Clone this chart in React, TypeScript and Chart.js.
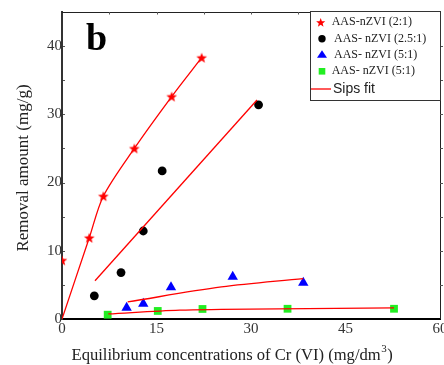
import React, { useEffect, useRef } from "react";
import { Chart, registerables } from "chart.js";

Chart.register(...registerables);

// ---- data ----
const s21X = [0, 4.33, 6.56, 11.48, 17.41, 22.17];
const s21Y = [8.6, 11.9, 18.0, 25.0, 32.6, 38.3];

const s25X = [5.13, 9.37, 12.9, 15.9, 31.2];
const s25Y = [3.4, 6.8, 12.9, 21.7, 31.4];

const s51X = [10.26, 12.9, 17.3, 27.1, 38.3];
const s51Y = [1.66, 2.25, 4.66, 6.18, 5.3];

const s55X = [7.25, 15.2, 22.3, 35.8, 52.7];
const s55Y = [0.63, 1.18, 1.47, 1.5, 1.5];

const fit21X = [0, 4.33, 6.56, 11.48, 17.41, 22.17];
const fit21Y = [0, 11.9, 18.0, 25.0, 32.6, 38.3];

const fit25X = [5.24, 30.95];
const fit25Y = [5.6, 32.1];

const fit51X = [10.43, 25.3, 38.3];
const fit51Y = [2.5, 4.7, 5.93];

const fit55X = [7.35, 18.7, 25.3, 52.7];
const fit55Y = [0.74, 1.3, 1.4, 1.62];

const legendLabels = [
  "AAS-nZVI (2:1)",
  "AAS- nZVI (2.5:1)",
  "AAS- nZVI (5:1)",
  "AAS- nZVI (5:1)",
  "Sips fit",
];

const xTicks = [0, 15, 30, 45, 60];
const yTicks = [0, 10, 20, 30, 40];

const xTitle = "Equilibrium concentrations of Cr (VI) (mg/dm";
const xTitleSup = "3";
const xTitleEnd = ")";
const yTitle = "Removal amount (mg/g)";
const panelLabel = "b";

const RED = "#ff0000";
const BLUE = "#0000ff";
const GREEN = "#22ee22";
const SERIF = "'Liberation Serif', 'Times New Roman', serif";
const SANS = "'Liberation Sans', Arial, sans-serif";

const toPts = (xs: number[], ys: number[]) => xs.map((x, i) => ({ x, y: ys[i] }));

function starPath(ctx: CanvasRenderingContext2D, cx: number, cy: number, r: number) {
  ctx.beginPath();
  for (let i = 0; i < 10; i++) {
    const rad = i % 2 === 0 ? r : r * 0.42;
    const a = -Math.PI / 2 + (i * Math.PI) / 5;
    const x = cx + rad * Math.cos(a);
    const y = cy + rad * Math.sin(a);
    if (i === 0) ctx.moveTo(x, y);
    else ctx.lineTo(x, y);
  }
  ctx.closePath();
}

function makeStar(r: number, color: string) {
  const c = document.createElement("canvas");
  const size = Math.ceil(r * 2 + 2);
  c.width = size;
  c.height = size;
  const ctx = c.getContext("2d")!;
  ctx.fillStyle = color;
  starPath(ctx, size / 2, size / 2 + 0.5, r);
  ctx.fill();
  return c;
}

const decorPlugin = {
  id: "decor",
  afterDraw(chart: any) {
    const ctx: CanvasRenderingContext2D = chart.ctx;
    const a = chart.chartArea;
    const xs = chart.scales.x;
    const ys = chart.scales.y;
    ctx.save();

    // top & right frame
    ctx.strokeStyle = "#222";
    ctx.lineWidth = 1;
    ctx.beginPath();
    ctx.moveTo(a.left, a.top + 0.5);
    ctx.lineTo(a.right + 0.5, a.top + 0.5);
    ctx.lineTo(a.right + 0.5, a.bottom);
    ctx.stroke();

    // minor ticks
    ctx.strokeStyle = "#555";
    ctx.beginPath();
    for (let v = 7.5; v < 60; v += 7.5) {
      const px = Math.round(xs.getPixelForValue(v)) + 0.5;
      ctx.moveTo(px, a.top);
      ctx.lineTo(px, a.top + 2.5);
    }
    for (let v = 5; v < 45; v += 5) {
      const py = Math.round(ys.getPixelForValue(v)) + 0.5;
      ctx.moveTo(a.right, py);
      ctx.lineTo(a.right + 3, py);
      ctx.moveTo(a.left + 1, py);
      ctx.lineTo(a.left + 3, py);
    }
    ctx.stroke();

    // panel label
    ctx.fillStyle = "#000";
    ctx.font = `bold 38px ${SERIF}`;
    ctx.textAlign = "left";
    ctx.textBaseline = "alphabetic";
    ctx.fillText(panelLabel, 86, 50);

    // axis titles
    ctx.fillStyle = "#222";
    ctx.font = `16.6px ${SERIF}`;
    const tx = 71.5;
    const ty = 360;
    ctx.fillText(xTitle, tx, ty);
    const w1 = ctx.measureText(xTitle).width;
    ctx.font = `11px ${SERIF}`;
    ctx.fillText(xTitleSup, tx + w1 + 0.5, ty - 8);
    const w2 = ctx.measureText(xTitleSup).width;
    ctx.font = `16.6px ${SERIF}`;
    ctx.fillText(xTitleEnd, tx + w1 + w2 + 1, ty);

    ctx.save();
    ctx.translate(28, 168);
    ctx.rotate(-Math.PI / 2);
    ctx.textAlign = "center";
    ctx.font = `17px ${SERIF}`;
    ctx.fillText(yTitle, 0, 0);
    ctx.restore();

    // legend
    const lx = 310.5;
    const ly = 11.5;
    const lw = 130;
    const lh = 89;
    ctx.fillStyle = "#fff";
    ctx.fillRect(lx, ly, lw, lh);
    ctx.strokeStyle = "#333";
    ctx.lineWidth = 1;
    ctx.strokeRect(lx, ly, lw, lh);

    const rowY = [22.3, 38.7, 54.7, 71.3, 89];
    ctx.fillStyle = RED;
    starPath(ctx, 320.7, rowY[0] + 0.5, 4.8);
    ctx.fill();
    ctx.fillStyle = "#000";
    ctx.beginPath();
    ctx.arc(322, rowY[1], 3.7, 0, Math.PI * 2);
    ctx.fill();
    ctx.fillStyle = BLUE;
    ctx.beginPath();
    ctx.moveTo(322, rowY[2] - 4.5);
    ctx.lineTo(327, rowY[2] + 3);
    ctx.lineTo(317, rowY[2] + 3);
    ctx.closePath();
    ctx.fill();
    ctx.fillStyle = GREEN;
    ctx.fillRect(318.7, rowY[3] - 3.3, 6.6, 6.6);
    ctx.strokeStyle = RED;
    ctx.lineWidth = 1.3;
    ctx.beginPath();
    ctx.moveTo(311, rowY[4]);
    ctx.lineTo(331, rowY[4]);
    ctx.stroke();

    ctx.fillStyle = "#222";
    ctx.textAlign = "left";
    ctx.textBaseline = "middle";
    ctx.font = `12px ${SERIF}`;
    const textX = [331.7, 334, 334, 331.7];
    for (let i = 0; i < 4; i++) ctx.fillText(legendLabels[i], textX[i], rowY[i]);
    ctx.font = `14px ${SANS}`;
    ctx.fillText(legendLabels[4], 333, rowY[4]);

    ctx.restore();
  },
};

export default function App() {
  const ref = useRef<HTMLCanvasElement | null>(null);

  useEffect(() => {
    const canvas = ref.current;
    if (!canvas) return;
    const star = makeStar(5.6, RED);

    const fitStyle = {
      type: "line" as const,
      showLine: true,
      borderColor: RED,
      borderWidth: 1.3,
      pointRadius: 0,
      fill: false,
      clip: 0,
    };

    const chart = new Chart(canvas, {
      type: "scatter",
      data: {
        datasets: [
          { ...fitStyle, label: "fit21", data: toPts(fit21X, fit21Y), tension: 0.3 },
          { ...fitStyle, label: "fit25", data: toPts(fit25X, fit25Y) },
          { ...fitStyle, label: "fit51", data: toPts(fit51X, fit51Y), cubicInterpolationMode: "monotone" },
          { ...fitStyle, label: "fit55", data: toPts(fit55X, fit55Y), cubicInterpolationMode: "monotone" },
          {
            label: legendLabels[0],
            data: toPts(s21X, s21Y),
            pointStyle: star as any,
            pointRadius: 6,
            clip: 0,
          },
          {
            label: legendLabels[1],
            data: toPts(s25X, s25Y),
            pointStyle: "circle",
            pointRadius: 4.4,
            backgroundColor: "#000",
            borderColor: "#000",
            borderWidth: 0,
            clip: 0,
          },
          {
            label: legendLabels[2],
            data: toPts(s51X, s51Y),
            pointStyle: "triangle",
            pointRadius: 6,
            backgroundColor: BLUE,
            borderColor: BLUE,
            borderWidth: 0,
            clip: 0,
          },
          {
            label: legendLabels[3],
            data: toPts(s55X, s55Y),
            pointStyle: "rect",
            pointRadius: 5.5,
            backgroundColor: GREEN,
            borderColor: GREEN,
            borderWidth: 0,
            clip: 0,
          },
        ] as any,
      },
      options: {
        responsive: false,
        animation: false,
        devicePixelRatio: 1,
        layout: { padding: { top: 12, right: 4, left: 0, bottom: 0 }, autoPadding: false } as any,
        plugins: { legend: { display: false }, tooltip: { enabled: false } },
        scales: {
          x: {
            type: "linear",
            min: 0,
            max: 60,
            afterBuildTicks: (s: any) => {
              s.ticks = xTicks.map((v) => ({ value: v }));
            },
            ticks: {
              font: { family: SERIF, size: 15 },
              color: "#333",
              padding: 1,
              maxRotation: 0,
              autoSkip: false,
            },
            grid: { display: false, drawTicks: false },
            border: { display: true, color: "#000", width: 2 },
            afterFit: (s: any) => {
              s.height = 46;
              s.paddingLeft = 0;
              s.paddingRight = 0;
            },
          },
          y: {
            type: "linear",
            min: 0,
            max: 45,
            afterBuildTicks: (s: any) => {
              s.ticks = yTicks.map((v) => ({ value: v }));
            },
            ticks: {
              font: { family: SERIF, size: 15 },
              color: "#333",
              padding: 0,
              autoSkip: false,
            },
            grid: { display: false, drawTicks: false },
            border: { display: true, color: "#333", width: 2 },
            afterFit: (s: any) => {
              s.width = 62;
              s.paddingTop = 0;
              s.paddingBottom = 0;
            },
          },
        },
      } as any,
      plugins: [decorPlugin],
    });

    return () => chart.destroy();
  }, []);

  return (
    <div style={{ position: "absolute", left: 0, top: 0, width: 444, height: 365, background: "#fff" }}>
      <canvas ref={ref} width={444} height={365} style={{ display: "block", width: 444, height: 365 }} />
    </div>
  );
}
